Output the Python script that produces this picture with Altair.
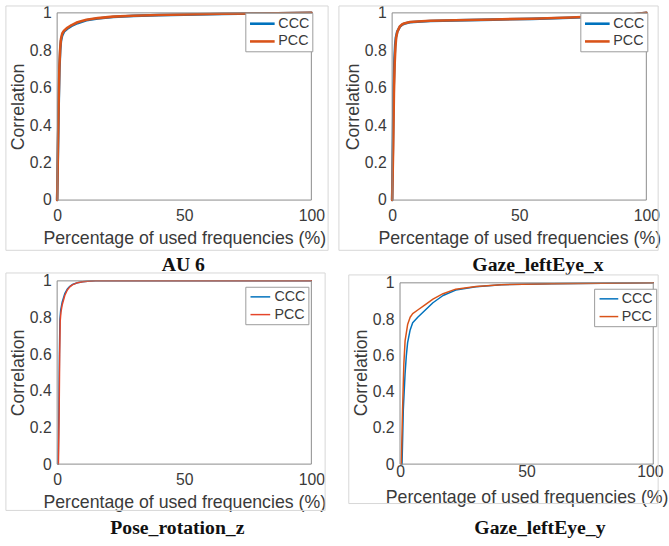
import altair as alt
import pandas as pd

# ---------------- data ----------------
series_names = ["CCC", "PCC"]
captions = ["AU 6", "Gaze_leftEye_x", "Pose_rotation_z", "Gaze_leftEye_y"]
x_ticks = [0, 50, 100]
y_ticks = [0, 0.2, 0.4, 0.6, 0.8, 1]

# AU 6
au6_ccc_x = [0, 0.3, 0.6, 0.9, 1.2, 1.5, 2, 2.7, 4, 5.7, 8, 11.5, 16, 22, 30, 40, 50, 65, 80, 100]
au6_ccc_y = [0, 0.25, 0.5, 0.7, 0.8, 0.85, 0.88, 0.9, 0.915, 0.93, 0.945, 0.96, 0.97, 0.978, 0.984, 0.988, 0.99, 0.994, 0.997, 1.0]
au6_pcc_x = [0, 0.3, 0.6, 0.9, 1.2, 1.5, 2, 2.7, 4, 5.7, 8, 11.5, 16, 22, 30, 40, 50, 65, 80, 100]
au6_pcc_y = [0, 0.27, 0.53, 0.72, 0.81, 0.86, 0.89, 0.905, 0.92, 0.935, 0.95, 0.963, 0.972, 0.98, 0.985, 0.989, 0.991, 0.995, 0.997, 1.0]

# Gaze_leftEye_x
gx_ccc_x = [0, 0.3, 0.6, 0.9, 1.2, 1.5, 2, 3, 4, 5, 7, 10, 15, 25, 40, 55, 70, 85, 95, 100]
gx_ccc_y = [0, 0.3, 0.6, 0.75, 0.83, 0.87, 0.9, 0.925, 0.937, 0.943, 0.95, 0.953, 0.957, 0.96, 0.964, 0.968, 0.974, 0.982, 0.992, 1.0]
gx_pcc_x = [0, 0.4, 0.7, 1.0, 1.3, 1.6, 2.1, 3, 4, 5, 7, 10, 15, 25, 40, 55, 70, 85, 95, 100]
gx_pcc_y = [0, 0.28, 0.57, 0.73, 0.82, 0.87, 0.9, 0.927, 0.939, 0.945, 0.951, 0.954, 0.958, 0.961, 0.965, 0.969, 0.975, 0.983, 0.992, 1.0]

# Pose_rotation_z
pz_ccc_x = [0.4, 0.7, 0.9, 1.1, 1.4, 2, 3, 4, 5, 6, 8, 10, 12, 15, 100]
pz_ccc_y = [0, 0.3, 0.6, 0.79, 0.84, 0.885, 0.93, 0.955, 0.97, 0.98, 0.99, 0.995, 0.998, 1.0, 1.0]
pz_pcc_x = [0.5, 0.8, 1.0, 1.2, 1.5, 2, 3, 4, 5, 6, 8, 10, 12, 15, 100]
pz_pcc_y = [0, 0.3, 0.6, 0.78, 0.83, 0.87, 0.92, 0.95, 0.967, 0.978, 0.99, 0.995, 0.998, 1.0, 1.0]

# Gaze_leftEye_y
gy_ccc_x = [0.8, 1.3, 2, 2.5, 3, 4, 5, 7, 10, 13, 17, 22, 30, 40, 60, 80, 100]
gy_ccc_y = [0, 0.3, 0.5, 0.6, 0.67, 0.74, 0.78, 0.81, 0.85, 0.89, 0.93, 0.96, 0.978, 0.99, 0.995, 0.998, 1.0]
gy_pcc_x = [0.5, 1, 1.5, 2, 3, 4, 5, 7, 10, 13, 17, 22, 30, 40, 60, 80, 100]
gy_pcc_y = [0, 0.3, 0.55, 0.68, 0.77, 0.81, 0.83, 0.85, 0.88, 0.91, 0.94, 0.965, 0.98, 0.99, 0.995, 0.998, 1.0]

# axes box corners (data units)
box_x = [0, 100]
box_y = [0, 1]

TEXT = "#3a3a3a"
FONT = "Liberation Sans"
BOX = "#8a8a8a"


def make_df(cx, cy, px, py):
    rows = []
    for i, (a, b) in enumerate(zip(cx, cy)):
        rows.append({"series": series_names[0], "x": a, "y": b, "i": i})
    for i, (a, b) in enumerate(zip(px, py)):
        rows.append({"series": series_names[1], "x": a, "y": b, "i": i})
    return pd.DataFrame(rows)


def panel(df, colors, lw, caption, w, h, lx, ly, sym_len, gap, frame, cap_dx, cap_off,
          xdom=(0, 100), ydom=(0, 1), yoff=0, title_x=None, flush_last=False,
          lab_pad=8, tit_pad=6):
    unit = sym_len / 2.0
    xaxis = dict(values=x_ticks, title="Percentage of used frequencies (%)",
                 labelPadding=lab_pad, titlePadding=tit_pad, labelFlush=False,
                 labelOverlap=False)
    if title_x is not None:
        xaxis["titleX"] = title_x
    if flush_last:
        xaxis["labelFlush"] = 1
        xaxis["labelFlushOffset"] = 10
    xs = alt.X("x:Q", scale=alt.Scale(domain=list(xdom), nice=False), axis=alt.Axis(**xaxis))
    ys = alt.Y("y:Q", scale=alt.Scale(domain=list(ydom), nice=False),
               axis=alt.Axis(values=y_ticks, format="~g", title="Correlation",
                             labelPadding=6, titlePadding=2, labelFlush=False,
                             labelOverlap=False, offset=yoff))
    line = alt.Chart(df).mark_line(strokeWidth=lw, strokeJoin="round", strokeCap="round").encode(
        x=xs, y=ys,
        color=alt.Color("series:N", scale=alt.Scale(domain=series_names, range=colors),
                        legend=alt.Legend(title=None, orient="none", legendX=lx, legendY=ly,
                                          symbolType="M-1,0H3", symbolSize=unit * unit,
                                          symbolStrokeWidth=lw, labelFont=FONT, labelFontSize=14.5,
                                          labelColor=TEXT, labelOffset=sym_len - unit + gap,
                                          padding=3, rowPadding=3,
                                          strokeColor="#9a9a9a", fillColor="white")),
        order="i:Q",
    )
    boxdf = pd.DataFrame({"x": [box_x[0]], "x2": [box_x[1]], "y": [box_y[0]], "y2": [box_y[1]]})
    box = alt.Chart(boxdf).mark_rect(fillOpacity=0, stroke=BOX, strokeWidth=1).encode(
        x=xs, x2="x2:Q", y=ys, y2="y2:Q")
    fr = alt.Chart(pd.DataFrame({"k": [0]})).mark_rect(
        fillOpacity=0, stroke="#d6d6d6", strokeWidth=1
    ).encode(x=alt.value(frame[0]), x2=alt.value(frame[1]),
             y=alt.value(frame[2]), y2=alt.value(frame[3]))
    return alt.layer(line, box, fr).properties(
        width=w, height=h,
        view=alt.ViewBackground(stroke="transparent"),
        title=alt.TitleParams(caption, orient="bottom", font="Liberation Serif", fontSize=20,
                              fontWeight="bold", color="#111", offset=cap_off, dx=cap_dx,
                              anchor="middle", frame="group"),
    )


blue = "#0072BD"
orange = "#D95319"

tl = panel(make_df(au6_ccc_x, au6_ccc_y, au6_pcc_x, au6_pcc_y), [blue, orange], 2.6,
           captions[0], 258, 190, 191, 0, 25, 2, (-52, 275, -7, 241), -1, 4)
tr = panel(make_df(gx_ccc_x, gx_ccc_y, gx_pcc_x, gx_pcc_y), [blue, orange], 2.6,
           captions[1], 258, 190, 191, 0, 25, 2, (-54, 270, -7, 241), 19, 4)
bl = panel(make_df(pz_ccc_x, pz_ccc_y, pz_pcc_x, pz_pcc_y), [blue, "#E5452A"], 1.5,
           captions[2], 258, 186, 191, 6, 20, 2, (-52, 272, -8, 233), -7, 7)
# bottom-right axes start 8px further right and 2px lower than the bottom-left ones
br = panel(make_df(gy_ccc_x, gy_ccc_y, gy_pcc_x, gy_pcc_y), [blue, orange], 1.5,
           captions[3], 265, 186, 205, 8, 19, 1, (-44, 270, -6, 226), 17.5, 12,
           xdom=(-8 * 100 / 257, 100), ydom=(0, 1 + 2 / 184), yoff=-8, title_x=136.5,
           flush_last=True, lab_pad=0, tit_pad=9)

chart = alt.concat(tl, tr, bl, br, columns=2, spacing=82, bounds="flush").resolve_scale(
    color="independent", x="independent", y="independent").resolve_legend(
    color="independent").properties(
    padding={"left": 5, "top": 0, "right": 0, "bottom": 0},
    background="white",
).configure_axis(
    domain=False, grid=False, ticks=False,
    labelFont=FONT, labelFontSize=16, labelColor=TEXT,
    titleFont=FONT, titleFontSize=18, titleFontWeight="normal", titleColor=TEXT,
)

chart.save("out.html", embed_options={"renderer": "svg", "actions": False})
